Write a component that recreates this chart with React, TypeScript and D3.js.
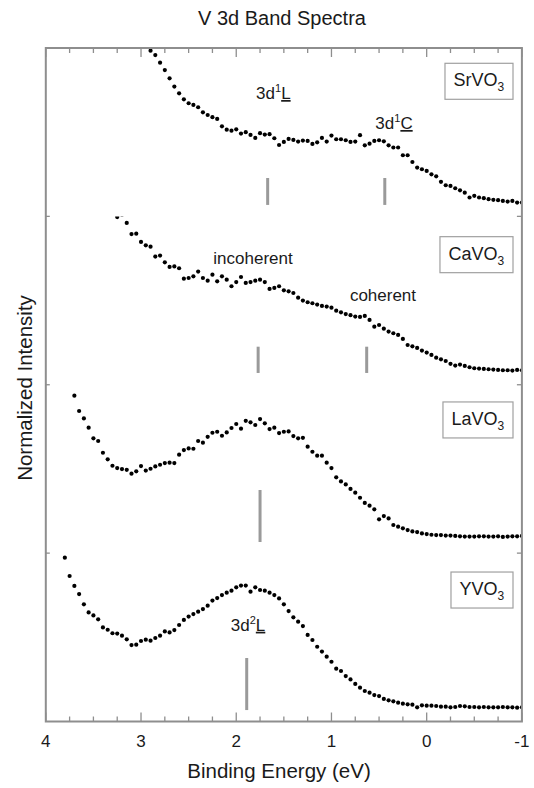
import React, { useEffect, useRef } from 'react';
import * as d3 from 'd3';

const W = 534;
const H = 788;
const FONT = '"Liberation Sans", Arial, Helvetica, sans-serif';

// ---------- data ----------
const title = 'V 3d Band Spectra';
const xLabel = 'Binding Energy (eV)';
const yLabel = 'Normalized Intensity';
const xTickValues = [4, 3, 2, 1, 0, -1];
const energyStep = 0.05;

// compound names (base + subscript), top to bottom
const compoundBase = ['SrVO', 'CaVO', 'LaVO', 'YVO'];
const compoundSub = ['3', '3', '3', '3'];
// first binding energy of each spectrum (eV), points every 0.05 eV toward -1 eV
const startEnergy = [2.9, 3.25, 3.7, 3.8];

const srVO3 = [
  0.984, 0.958, 0.913, 0.869, 0.82, 0.771, 0.731, 0.695, 0.672, 0.662,
  0.648, 0.618, 0.602, 0.589, 0.579, 0.535, 0.515, 0.509, 0.517, 0.492,
  0.5, 0.484, 0.466, 0.494, 0.486, 0.488, 0.464, 0.424, 0.442, 0.46,
  0.454, 0.444, 0.45, 0.448, 0.43, 0.44, 0.466, 0.444, 0.48, 0.458,
  0.458, 0.452, 0.442, 0.444, 0.482, 0.422, 0.432, 0.448, 0.452, 0.446,
  0.422, 0.409, 0.409, 0.363, 0.363, 0.323, 0.29, 0.28, 0.27, 0.25,
  0.238, 0.205, 0.185, 0.181, 0.167, 0.155, 0.141, 0.112, 0.122, 0.112,
  0.108, 0.102, 0.098, 0.096, 0.092, 0.088, 0.092, 0.082, 0.082,
];

const caVO3 = [
  0.996, 1.01, 0.961, 0.895, 0.897, 0.848, 0.828, 0.82, 0.761, 0.767,
  0.727, 0.7, 0.703, 0.692, 0.63, 0.634, 0.644, 0.672, 0.634, 0.618,
  0.654, 0.614, 0.644, 0.624, 0.585, 0.61, 0.64, 0.605, 0.61, 0.618,
  0.624, 0.61, 0.569, 0.575, 0.585, 0.561, 0.555, 0.545,
  0.517, 0.5, 0.49, 0.484, 0.476, 0.468, 0.464, 0.458, 0.44, 0.43,
  0.42, 0.413, 0.405, 0.403, 0.409, 0.385, 0.345, 0.355, 0.333, 0.316,
  0.306, 0.296, 0.272, 0.236, 0.228, 0.219, 0.203, 0.191, 0.177, 0.161,
  0.151, 0.141, 0.124, 0.114, 0.12, 0.112, 0.104, 0.098, 0.096, 0.094,
  0.092, 0.09, 0.088, 0.086, 0.086, 0.084, 0.088, 0.086,
];

const laVO3 = [
  0.935, 0.844, 0.8, 0.745, 0.682, 0.666, 0.596, 0.557, 0.519, 0.505,
  0.499, 0.495, 0.472, 0.486, 0.517, 0.49, 0.501, 0.515, 0.525, 0.535,
  0.537, 0.535, 0.585, 0.612, 0.622, 0.62, 0.666, 0.656, 0.691, 0.715,
  0.721, 0.697, 0.717, 0.743, 0.767, 0.739, 0.786, 0.777, 0.761, 0.796,
  0.771, 0.737, 0.745, 0.713, 0.721, 0.723, 0.695, 0.682, 0.685, 0.632,
  0.602, 0.579, 0.579, 0.537, 0.505, 0.45, 0.426, 0.408, 0.381, 0.359,
  0.329, 0.298, 0.282, 0.26, 0.201, 0.22, 0.206, 0.167, 0.157, 0.147,
  0.137, 0.129, 0.125, 0.117, 0.113, 0.109, 0.107, 0.107, 0.104, 0.104,
  0.102, 0.1, 0.098, 0.098, 0.098, 0.1, 0.1, 0.098, 0.098, 0.1,
  0.096, 0.098, 0.1, 0.1, 0.102,
];

const yVO3 = [
  0.973, 0.864, 0.805, 0.757, 0.696, 0.648, 0.63, 0.607, 0.559, 0.545,
  0.524, 0.522, 0.51, 0.488, 0.454, 0.456, 0.478, 0.486, 0.48, 0.496,
  0.51, 0.535, 0.529, 0.543, 0.573, 0.603, 0.623, 0.638, 0.652, 0.668,
  0.688, 0.718, 0.733, 0.751, 0.765, 0.777, 0.797, 0.807, 0.807, 0.771,
  0.797, 0.781, 0.777, 0.765, 0.751, 0.731, 0.696, 0.656, 0.619, 0.593,
  0.567, 0.514, 0.484, 0.444, 0.415, 0.385, 0.355, 0.314, 0.3, 0.27,
  0.25, 0.223, 0.201, 0.181, 0.171, 0.157, 0.151, 0.134, 0.126, 0.12,
  0.112, 0.106, 0.102, 0.1, 0.084, 0.096, 0.094, 0.094, 0.092, 0.088,
  0.088, 0.084, 0.086, 0.092, 0.09, 0.086, 0.086, 0.084, 0.086, 0.084,
  0.084, 0.084, 0.086, 0.084, 0.084, 0.082, 0.084,
];

const spectra = [srVO3, caVO3, laVO3, yVO3];

// peak markers: panel index, energy (eV), bottom and top (normalized intensity)
const markerPanel = [0, 0, 1, 1, 2, 3];
const markerEnergy = [1.67, 0.44, 1.77, 0.63, 1.75, 1.89];
const markerLow = [0.068, 0.068, 0.07, 0.07, 0.066, 0.068];
const markerHigh = [0.228, 0.228, 0.226, 0.226, 0.375, 0.377];

// annotation texts: panel, energy of text centre, intensity of baseline
const noteMain = ['3d', '3d', 'incoherent', 'coherent', '3d'];
const noteSup = ['1', '1', '', '', '2'];
const noteUnder = ['L', 'C', '', '', 'L'];
const notePanel = [0, 0, 1, 1, 3];
const noteEnergy = [1.61, 0.343, 1.824, 0.459, 1.876];
const noteLevel = [0.697, 0.519, 0.717, 0.499, 0.539];

// ---------- layout ----------
const L = 45.8;
const R = 521.9;
const T = 48;
const B = 721.5;
const legendTopOffset = [15.3, 20.3, 17.2, 18.9];
const legendRight = 513;
const AXIS = '#8e8e8e';
const TEXT = '#1a1a1a';

export default function App() {
  const ref = useRef<SVGSVGElement>(null);

  useEffect(() => {
    const svg = d3.select(ref.current);
    svg.selectAll('*').remove();
    const nP = spectra.length;
    const x = d3.scaleLinear().domain([4, -1]).range([L, R]);
    const y = d3.scaleLinear().domain([0, nP]).range([B, T]);
    const offset = (p: number) => nP - 1 - p;
    const panelH = (B - T) / nP;

    const defs = svg.append('defs');
    spectra.forEach((_, p) => {
      defs
        .append('clipPath')
        .attr('id', `clip${p}`)
        .append('rect')
        .attr('x', L)
        .attr('y', y(offset(p) + 1))
        .attr('width', R - L)
        .attr('height', panelH);
    });

    svg.append('rect').attr('width', W).attr('height', H).attr('fill', '#fff');

    // title
    svg
      .append('text')
      .attr('x', 282)
      .attr('y', 25)
      .attr('text-anchor', 'middle')
      .attr('font-family', FONT)
      .attr('font-size', 20)
      .attr('fill', TEXT)
      .text(title);

    // markers
    markerEnergy.forEach((e, i) => {
      const p = markerPanel[i];
      svg
        .append('line')
        .attr('x1', x(e))
        .attr('x2', x(e))
        .attr('y1', y(offset(p) + markerLow[i]))
        .attr('y2', y(offset(p) + markerHigh[i]))
        .attr('stroke', '#9a9a9a')
        .attr('stroke-width', 3);
    });

    // spectra
    spectra.forEach((vals, p) => {
      const g = svg.append('g').attr('clip-path', `url(#clip${p})`);
      g.selectAll('circle')
        .data(vals)
        .join('circle')
        .attr('cx', (_, i) => x(startEnergy[p] - i * energyStep))
        .attr('cy', (v) => y(offset(p) + v))
        .attr('r', 2.1)
        .attr('fill', '#000');
    });

    // annotations
    noteMain.forEach((m, i) => {
      const p = notePanel[i];
      const t = svg
        .append('text')
        .attr('x', x(noteEnergy[i]))
        .attr('y', y(offset(p) + noteLevel[i]))
        .attr('text-anchor', 'middle')
        .attr('font-family', FONT)
        .attr('font-size', 17)
        .attr('fill', TEXT);
      t.append('tspan').text(m);
      if (noteSup[i]) {
        t.append('tspan').attr('font-size', 11).attr('dy', -7).text(noteSup[i]);
      }
      if (noteUnder[i]) {
        t.append('tspan')
          .attr('dy', noteSup[i] ? 7 : 0)
          .attr('text-decoration', 'underline')
          .style('text-decoration', 'underline')
          .text(noteUnder[i]);
      }
    });

    // legends
    compoundBase.forEach((name, p) => {
      const top = y(offset(p) + 1) + legendTopOffset[p];
      const g = svg.append('g');
      const rect = g.append('rect');
      const t = g
        .append('text')
        .attr('x', 0)
        .attr('y', top + 23)
        .attr('font-family', FONT)
        .attr('font-size', 18)
        .attr('fill', TEXT);
      t.append('tspan').text(name);
      t.append('tspan').attr('font-size', 12).attr('dy', 5).text(compoundSub[p]);
      const bb = (t.node() as SVGTextElement).getBBox();
      const pad = 8.5;
      const boxW = bb.width + pad * 2;
      const left = legendRight - boxW;
      t.attr('x', left + pad);
      rect
        .attr('x', left)
        .attr('y', top)
        .attr('width', boxW)
        .attr('height', 36)
        .attr('fill', '#fff')
        .attr('stroke', '#a0a0a0')
        .attr('stroke-width', 1.2);
    });

    // axes frame
    svg
      .append('rect')
      .attr('x', L)
      .attr('y', T)
      .attr('width', R - L)
      .attr('height', B - T)
      .attr('fill', 'none')
      .attr('stroke', AXIS)
      .attr('stroke-width', 2);

    // x ticks top and bottom
    const ticks = d3.range(0, 21).map((i) => 4 - i * 0.25);
    ticks.forEach((tv, i) => {
      const major = i % 4 === 0;
      const len = major ? 9 : 5;
      svg
        .append('line')
        .attr('x1', x(tv))
        .attr('x2', x(tv))
        .attr('y1', B)
        .attr('y2', B - len)
        .attr('stroke', AXIS)
        .attr('stroke-width', 1.3);
      svg
        .append('line')
        .attr('x1', x(tv))
        .attr('x2', x(tv))
        .attr('y1', T)
        .attr('y2', T + len)
        .attr('stroke', AXIS)
        .attr('stroke-width', 1.3);
    });

    // y ticks at panel boundaries
    d3.range(1, nP).forEach((k) => {
      svg
        .append('line')
        .attr('x1', L)
        .attr('x2', L + 4)
        .attr('y1', y(k))
        .attr('y2', y(k))
        .attr('stroke', AXIS)
        .attr('stroke-width', 1.3);
      svg
        .append('line')
        .attr('x1', R)
        .attr('x2', R - 5)
        .attr('y1', y(k))
        .attr('y2', y(k))
        .attr('stroke', AXIS)
        .attr('stroke-width', 1.3);
    });

    // x tick labels
    xTickValues.forEach((tv) => {
      svg
        .append('text')
        .attr('x', x(tv))
        .attr('y', 747)
        .attr('text-anchor', 'middle')
        .attr('font-family', FONT)
        .attr('font-size', 17)
        .attr('fill', TEXT)
        .text(tv < 0 ? `-${Math.abs(tv)}` : `${tv}`);
    });

    // axis labels
    svg
      .append('text')
      .attr('x', 279)
      .attr('y', 778)
      .attr('text-anchor', 'middle')
      .attr('font-family', FONT)
      .attr('font-size', 20.5)
      .attr('fill', TEXT)
      .text(xLabel);

    svg
      .append('text')
      .attr('transform', 'translate(32,388) rotate(-90)')
      .attr('text-anchor', 'middle')
      .attr('font-family', FONT)
      .attr('font-size', 20.5)
      .attr('fill', TEXT)
      .text(yLabel);
  }, []);

  return (
    <svg
      ref={ref}
      width={W}
      height={H}
      style={{ position: 'absolute', left: 0, top: 0, display: 'block' }}
    />
  );
}
